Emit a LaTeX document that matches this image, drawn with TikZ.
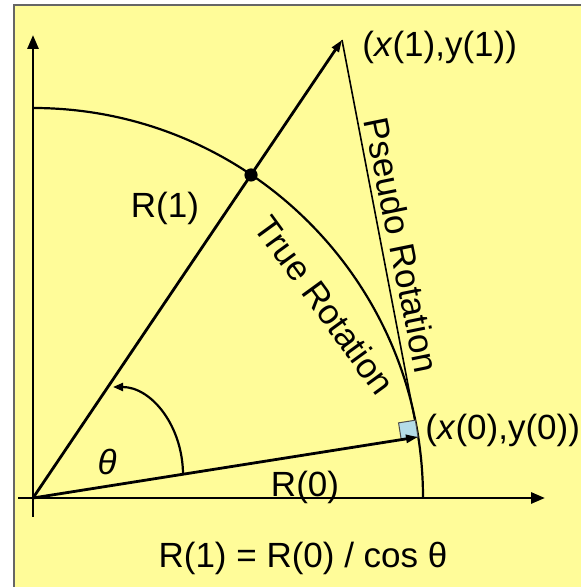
\documentclass[tikz,border=0pt]{standalone}
\usepackage{fontspec}
\setmainfont{Liberation Sans}
\usetikzlibrary{arrows.meta}
\definecolor{padyellow}{RGB}{255,252,153}
\definecolor{sqblue}{RGB}{180,220,232}

\begin{document}
\begin{tikzpicture}[x=0.5pt,y=0.5pt,font=\fontsize{17.5}{21}\selectfont,
  axis/.style={line width=1.4pt,-{Triangle[length=7pt,width=5.5pt]}},
  vec/.style={line width=1.4pt,-{Triangle[length=6pt,width=4pt]}},
  pseudo/.style={line width=0.8pt},
  lab/.style={inner sep=1pt}]
 \useasboundingbox (0,0) rectangle (581,587);
 % ---- panel ----
 \fill[padyellow] (14,0) rectangle (581,582);
 \draw[black!60,line width=0.8pt] (14,0) -- (14,582) -- (581,582);
 % ---- points ----
 \coordinate (O) at (33,89);
 \coordinate (P0) at (418,150);
 \coordinate (P1) at (342,547);
 \coordinate (Q) at (251,412);
 % ---- axes ----
 \coordinate (xs) at (18,89);
 \coordinate (xe) at (545,89);
 \coordinate (ys) at (33,70);
 \coordinate (ye) at (33,552);
 \draw[axis] (xs) -- (xe);
 \draw[axis] (ys) -- (ye);
 % ---- true rotation arc ----
 \draw[line width=1.1pt] (33,479) arc[start angle=90,end angle=0,radius=390];
 % ---- vectors ----
 \draw[vec] (O) -- (P1);
 \draw[pseudo] (P0) -- (P1);
 \draw[black!70,fill=sqblue,line width=0.5pt] (P0) -- ++(189:17) -- ++(99:17) -- ++(9:17) -- cycle;
 \draw[vec] (O) -- (P0);
 \fill (Q) circle[radius=3.3pt];
 % ---- angle ----
 \draw[line width=1.1pt,-{Triangle[length=5pt,width=4pt]}] (183,112) arc[start angle=0,end angle=90,x radius=70,y radius=88];
 % ---- labels ----
 \node[lab] (r1) at (165,379) {R(1)};
 \node[lab] (r0) at (305,100) {R(0)};
 \node[lab] (th) at (107,125) {\textit{θ}};
 \node[lab,rotate=-54] (tr) at (325,282) {True Rotation};
 \node[lab,rotate=-78.5] (pr) at (402,342) {Pseudo Rotation};
 \node[lab,anchor=west] (p1) at (360,540) {(\textit{x}(1),y(1))};
 \node[lab,anchor=west] (p0) at (423,157) {(\textit{x}(0),y(0))};
 \node[lab] (eq) at (303,29) {R(1) = R(0) / cos θ};
\end{tikzpicture}
\end{document}
